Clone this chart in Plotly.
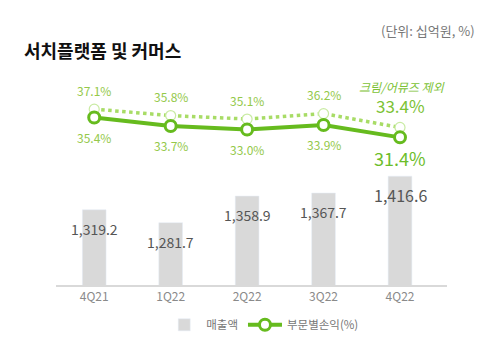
import plotly.graph_objects as go

categories = ["4Q21", "1Q22", "2Q22", "3Q22", "4Q22"]
sales = [1319.2, 1281.7, 1358.9, 1367.7, 1416.6]
sales_labels = ["1,319.2", "1,281.7", "1,358.9", "1,367.7", "1,416.6"]
margin_pct = [35.4, 33.7, 33.0, 33.9, 31.4]
margin_excl = [37.1, 35.8, 35.1, 36.2, 33.4]

FONT = "Noto Sans CJK KR"
GREEN = "#66BB1E"
LABEL_GREEN = "#94C94A"

fig = go.Figure()
fig.add_trace(go.Bar(
    x=categories, y=sales, name="매출액", marker=dict(color="#D9D9D9"),
    width=0.31, yaxis="y",
))
fig.add_trace(go.Scatter(
    x=categories, y=margin_excl, mode="lines+markers", yaxis="y2", showlegend=False,
    line=dict(color="#A8DC66", width=3.5, dash="dot"),
    marker=dict(symbol="circle", size=10, color="white", line=dict(color="#C9EBA3", width=1.2)),
))
fig.add_trace(go.Scatter(
    x=categories, y=margin_pct, mode="lines+markers", yaxis="y2", name="부문별손익(%)",
    line=dict(color=GREEN, width=4),
    marker=dict(symbol="circle", size=11, color="white", line=dict(color=GREEN, width=3)),
))

annotations = []
for i, c in enumerate(categories):
    last = i == len(categories) - 1
    annotations.append(dict(x=c, y=sales[i], xref="x", yref="y", text=sales_labels[i],
                            showarrow=False, yshift=-19,
                            font=dict(family=FONT, size=16 if last else 14, color="#555555")))
    annotations.append(dict(x=c, y=margin_pct[i], xref="x", yref="y2",
                            text=f"{margin_pct[i]:.1f}%", showarrow=False,
                            yshift=-21 if last else -20,
                            font=dict(family=FONT, size=18 if last else 12,
                                      color="#6CBD2A" if last else LABEL_GREEN)))
    annotations.append(dict(x=c, y=margin_excl[i], xref="x", yref="y2",
                            text=f"{margin_excl[i]:.1f}%", showarrow=False,
                            yshift=22 if last else 19,
                            font=dict(family=FONT, size=17 if last else 12,
                                      color="#7CC235" if last else LABEL_GREEN)))
annotations.append(dict(x=categories[-1], y=margin_excl[-1], xref="x", yref="y2",
                        text="<i>크림/어뮤즈 제외</i>", showarrow=False, yshift=41, xshift=2,
                        font=dict(family=FONT, size=12, color="#7CC235")))
# title and unit note (paper coords relative to plot area: 391 x 217 px)
annotations.append(dict(xref="paper", yref="paper", x=-34 / 391, y=(287 - 50) / 217,
                        xanchor="left", yanchor="middle",
                        text="<b>서치플랫폼 및 커머스</b>", showarrow=False,
                        font=dict(family=FONT, size=18, color="#111111")))
annotations.append(dict(xref="paper", yref="paper", x=(477 - 56) / 391, y=(287 - 30) / 217,
                        xanchor="right", yanchor="middle",
                        text="(단위: 십억원, %)", showarrow=False,
                        font=dict(family=FONT, size=13, color="#777777")))

fig.update_layout(
    width=487, height=351,
    margin=dict(l=56, r=40, t=70, b=64),
    paper_bgcolor="white", plot_bgcolor="white",
    font=dict(family=FONT, color="#555555"),
    annotations=annotations,
    xaxis=dict(showline=True, linecolor="#D9D9D9", linewidth=2, ticks="",
               tickfont=dict(family=FONT, size=12, color="#8A8A8A"), showgrid=False),
    yaxis=dict(range=[1101, 1724.6], visible=False, showgrid=False),
    yaxis2=dict(range=[1.6, 45], overlaying="y", visible=False, showgrid=False),
    legend=dict(orientation="h", x=0.53, xanchor="center", y=-0.185, yanchor="middle",
                font=dict(family=FONT, size=11.5, color="#777777"), itemwidth=34,
                traceorder="normal"),
    showlegend=True,
)

fig.write_html("out.html")
